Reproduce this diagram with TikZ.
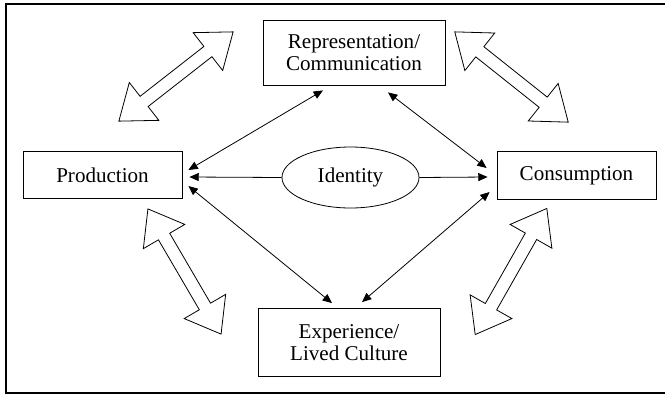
\documentclass[tikz,border=0pt]{standalone}
\usepackage{fontspec}
\setmainfont{Liberation Serif}
\usetikzlibrary{shapes.geometric, arrows.meta, calc}

% hollow two-headed block arrow, drawn along the x axis
\tikzset{
    dblarrow/.pic={
        \draw[line width=0.6pt, fill=white]
            (-72.5,0) -- (-40.5,24) -- (-40.5,6.5) -- (40.5,6.5) -- (40.5,24)
            -- (72.5,0) -- (40.5,-24) -- (40.5,-6.5) -- (-40.5,-6.5)
            -- (-40.5,-24) -- cycle;
    }
}

\begin{document}
\begin{tikzpicture}[
    x=0.75pt, y=-0.75pt,
    box/.style={
        rectangle,
        draw,
        line width=0.6pt,
        inner sep=0pt,
        align=center,
        font=\fontsize{15.8pt}{17pt}\selectfont
    },
    sidebox/.style={
        box,
        minimum width=119.25pt,
        minimum height=35.6pt
    },
    midbox/.style={
        box,
        minimum width=136.5pt
    },
    core/.style={
        ellipse,
        draw,
        line width=0.6pt,
        inner sep=0pt,
        minimum width=102.75pt,
        minimum height=45.75pt,
        font=\fontsize{15.8pt}{17pt}\selectfont
    },
    link/.style={
        {Triangle[length=7pt,width=6pt]}-{Triangle[length=7pt,width=6pt]},
        line width=0.6pt
    },
    feed/.style={
        -{Triangle[length=7pt,width=6pt]},
        line width=0.6pt
    }
]
\useasboundingbox (0,0) rectangle (665,394);

% Frame (open on the right)
\draw[line width=1.6pt] (670,4) -- (6,4) -- (6,393) -- (670,393);

% Boxes
\node[midbox, minimum height=48.75pt] (repr) at (354,52.5) {Representation/\\Communication};
\node[sidebox] (prod) at (102.5,175) {Production};
\node[sidebox] (cons) at (576.5,175.5) {Consumption};
\node[midbox, minimum height=51pt] (exper) at (349,342.5) {Experience/\\Lived Culture};
\node[core] (ident) at (350.5,177.5) {Identity};

% Arrow ends
\coordinate (p1) at ($(prod.east)+(6,-5)$);
\coordinate (p2) at ($(prod.east)+(7,2)$);
\coordinate (p3) at ($(prod.east)+(6,11)$);
\coordinate (c1) at ($(cons.west)+(-10,-7.5)$);
\coordinate (c2) at ($(cons.west)+(-9,1.5)$);
\coordinate (c3) at ($(cons.west)+(-7,16.5)$);
\coordinate (r1) at ($(repr.south)+(-31,5)$);
\coordinate (r2) at ($(repr.south)+(34,7)$);
\coordinate (e1) at ($(exper.north)+(-17,-5)$);
\coordinate (e2) at ($(exper.north)+(13,-6)$);

% Connectors
\draw[feed] (ident.west) -- (p2);
\draw[feed] (ident.east) -- (c2);
\draw[link] (p1) -- (r1);
\draw[link] (r2) -- (c1);
\draw[link] (p3) -- (e1);
\draw[link] (c3) -- (e2);

% Block arrows between the corners
\pic[rotate=38] at (176,76.5) {dblarrow};
\pic[rotate=-38.5] at (511.5,77) {dblarrow};
\pic[rotate=-59.7] at (184.5,271.5) {dblarrow};
\pic[rotate=60.4] at (511,271.5) {dblarrow};

\end{tikzpicture}
\end{document}
